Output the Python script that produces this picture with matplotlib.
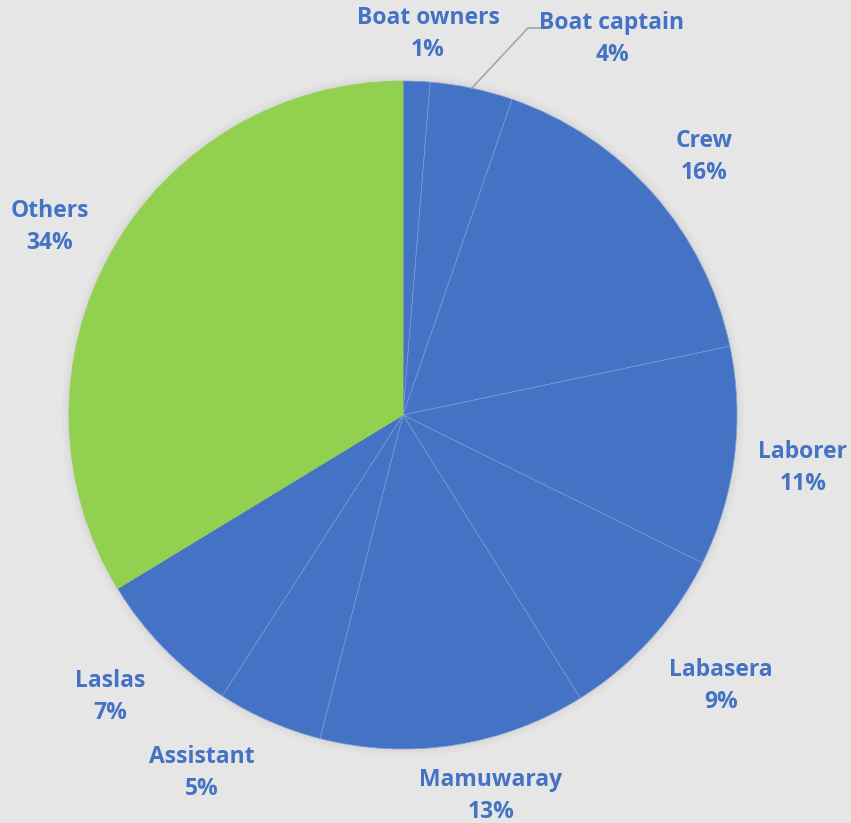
import numpy as np
import matplotlib
matplotlib.use("Agg")
import matplotlib.pyplot as plt
from matplotlib.patches import Circle

# 직업별 비율 (그림에서 각도로 추정)
labels = ["Boat owners", "Boat captain", "Crew", "Laborer", "Labasera",
          "Mamuwaray", "Assistant", "Laslas", "Others"]
values = [1.3, 4.0, 16.4, 10.6, 8.8, 12.9, 5.1, 7.2, 33.7]
pct_text = ["1%", "4%", "16%", "11%", "9%", "13%", "5%", "7%", "34%"]

blue = "#4472c4"
green = "#92d050"
text_blue = "#4472c4"
bg = "#e7e6e6"

W, H = 851, 823
cx, cy, R = 403, 415, 334

# 라벨 위치 (픽셀, 레이아웃용)
label_px = [(428, 34), (612, 39), (704, 157), (803, 468), (721, 686),
            (491, 796), (202, 773), (110, 697), (50, 227)]

fig = plt.figure(figsize=(W / 100, H / 100), dpi=100, facecolor=bg)
ax = fig.add_axes([0, 0, 1, 1])
ax.set_facecolor(bg)

# 은은한 그림자
for r, a in [(1.022, 0.03), (1.013, 0.04), (1.006, 0.05)]:
    ax.add_patch(Circle((0, 0.0), r, color="#808080", alpha=a, lw=0, zorder=0))

colors = [blue] * 8 + [green]
wedges, _ = ax.pie(values, colors=colors, startangle=90, counterclock=False,
                   radius=1.0, center=(0, 0), frame=True,
                   wedgeprops=dict(edgecolor="#7d9bd3", linewidth=0.5))
wedges[-1].set_edgecolor(green)
ax.set_xlim(-cx / R, (W - cx) / R)
ax.set_ylim(-(H - cy) / R, cy / R)
ax.set_aspect("auto")
ax.axis("off")

font = dict(family=["Open Sans", "DejaVu Sans"], fontsize=16.5, fontweight="bold",
            color=text_blue, ha="center", va="center", linespacing=1.42)

for i, w in enumerate(wedges):
    px, py = label_px[i]
    ax.text((px - cx) / R, (cy - py) / R, f"{labels[i]}\n{pct_text[i]}", **font)

# Boat captain 지시선
w = wedges[1]
m = np.deg2rad((w.theta1 + w.theta2) / 2)
p0 = (np.cos(m), np.sin(m))
p1 = ((528 - cx) / R, (cy - 28) / R)
p2 = ((540 - cx) / R, (cy - 28) / R)
ax.plot([p0[0], p1[0], p2[0]], [p0[1], p1[1], p2[1]], color="#a6a6a6", lw=1.2)

fig.savefig("out.png", dpi=100, facecolor=bg)
